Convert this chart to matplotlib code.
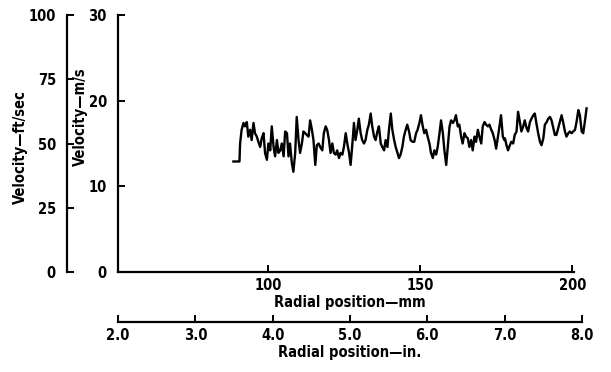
import matplotlib
matplotlib.use("Agg")
import matplotlib.pyplot as plt

# Hot-wire velocity trace across the duct
radial_mm = [
    88.7, 90.7, 90.9, 91.4, 92.0, 92.5, 93.1, 93.6, 94.2, 94.7, 95.3, 95.8, 96.4, 96.9,
    97.5, 98.0, 98.6, 99.1, 99.7, 100.2, 100.8, 101.3, 101.9, 102.4, 103.0, 103.5, 104.1,
    104.6, 105.2, 105.7, 106.3, 106.8, 107.3, 107.9, 108.4, 109.0, 109.5, 110.1, 110.6,
    111.2, 111.7, 112.3, 112.8, 113.4, 113.9, 114.5, 115.0, 115.6, 116.1, 116.7, 117.2,
    117.9, 118.4, 119.0, 119.5, 120.1, 120.6, 121.2, 121.7, 122.3, 122.8, 123.4, 123.9,
    124.5, 125.0, 125.6, 126.1, 126.7, 127.2, 127.7, 128.3, 128.8, 129.4, 129.9, 130.5,
    131.0, 131.6, 132.1, 132.7, 133.2, 133.8, 134.3, 134.9, 135.4, 136.0, 136.5, 137.1,
    137.6, 138.2, 138.7, 139.3, 139.8, 140.4, 140.9, 141.5, 142.0, 142.6, 143.1, 143.6,
    144.2, 144.7, 145.3, 145.8, 146.4, 146.9, 147.5,
    148.1, 148.7, 149.2, 149.8, 150.3, 150.9, 151.4, 152.0, 152.5, 153.1, 153.6, 154.2,
    154.7, 155.3, 155.8, 156.4, 156.9, 157.5, 158.0, 158.6, 159.1, 159.7, 160.2, 160.8,
    161.3, 161.8, 162.4, 162.9, 163.5, 164.0, 164.6, 165.1, 165.7, 166.2, 166.8, 167.3,
    167.9, 168.4, 169.0, 169.5, 170.1, 170.6, 171.2, 171.7, 172.3, 172.8, 173.4, 173.9,
    174.5, 175.0, 175.6, 176.1, 176.6, 177.2, 177.7,
    177.9, 178.4, 178.9, 179.5, 180.0, 180.6, 181.1, 181.7, 182.2, 182.8, 183.3, 183.9,
    184.4, 185.0, 185.5, 186.1, 186.6, 187.2, 187.7, 188.3, 188.8, 189.4, 189.9, 190.5,
    191.0, 191.6, 192.1, 192.7, 193.2, 193.8, 194.3, 194.8, 195.4, 195.9, 196.5, 197.0,
    197.6, 198.1, 198.7, 199.2, 199.8, 200.3, 200.9, 201.4, 202.0, 202.5, 203.1, 203.6,
    204.2, 204.7,
]
velocity_ms = [
    12.9, 12.9, 15.0, 16.6, 17.4, 17.0, 17.5, 15.8, 16.6, 15.4, 17.4, 16.2, 15.8, 15.2,
    14.6, 15.6, 16.2, 13.9, 13.1, 15.0, 14.2, 17.0, 14.6, 13.5, 15.4, 13.9, 14.2,
    15.0, 13.5, 16.4, 16.2, 13.5, 15.0, 12.7, 11.7, 13.9, 18.1, 15.4, 13.9,
    15.0, 16.4, 16.2, 16.0, 15.8, 17.7, 16.6, 15.4, 12.5, 14.8, 15.0, 14.6,
    14.2, 16.2, 17.0, 16.6, 15.4, 13.9, 15.0, 13.9, 13.7, 14.2, 13.3, 13.9,
    13.7, 14.6, 16.2, 15.0, 13.9, 12.5, 14.6, 17.4, 15.4, 16.6, 17.9, 16.2,
    15.4, 15.0, 15.4, 16.6, 17.2, 18.5, 17.0, 15.8, 15.4, 16.4, 17.0, 15.0,
    14.6, 14.2, 15.4, 14.6, 16.6, 18.5, 16.6, 15.4, 14.6, 13.9, 13.3, 13.7,
    14.6, 15.8, 16.6, 17.2, 16.4, 15.4, 15.2,
    15.2, 16.2, 16.6, 17.4, 18.3, 17.0, 16.2, 16.6, 15.8, 15.0, 13.9, 13.3,
    14.2, 13.7, 14.6, 16.2, 17.7, 16.2, 14.2, 12.5, 14.6, 17.0, 17.7, 17.4,
    17.7, 18.3, 17.0, 17.2, 15.8, 15.0, 16.2, 15.8, 15.6, 14.6, 15.4, 14.2,
    15.8, 15.2, 16.6, 15.8, 15.0, 17.0, 17.5, 17.2, 17.0, 17.2, 16.6, 16.2,
    15.4, 14.4, 15.8, 17.0, 18.3, 15.8, 15.4,
    15.6, 14.8, 14.2, 14.8, 15.2, 15.0, 16.0, 16.4, 18.7, 17.5, 16.4, 17.0,
    17.7, 16.8, 16.4, 17.5, 17.9, 18.3, 18.5, 17.2, 16.2, 15.2, 14.8, 15.6,
    17.2, 17.5, 17.9, 18.1, 17.7, 16.8, 16.0, 16.0, 16.8, 17.5, 18.3, 17.5,
    16.4, 15.8, 16.2, 16.4, 16.2, 16.4, 16.6, 17.5, 18.9, 18.3, 16.4, 16.2,
    17.7, 19.1,
]

mm_ticks = [100, 150, 200]
ms_ticks = [0, 10, 20, 30]
fts_ticks = [0, 25, 50, 75, 100]
in_ticks = [2.0, 3.0, 4.0, 5.0, 6.0, 7.0, 8.0]

plt.rcParams["font.family"] = ["DejaVu Sans"]
plt.rcParams["font.stretch"] = "condensed"
plt.rcParams["font.weight"] = "bold"
plt.rcParams["axes.labelweight"] = "bold"
FS = 10.5

W, H = 611, 372
fig = plt.figure(figsize=(W / 100, H / 100), dpi=100)


def frac(x0, y0, x1, y1):
    # pixel box -> figure fraction rect
    return [x0 / W, 1 - y1 / H, (x1 - x0) / W, (y1 - y0) / H]


def bare(ax):
    for s in ax.spines.values():
        s.set_visible(False)
    ax.patch.set_visible(False)


# main axes: velocity (m/s) vs radial position (mm)
ax = fig.add_axes(frac(118, 15, 582, 272))
ax.plot(radial_mm, velocity_ms, color="black", lw=1.7, clip_on=False)
ax.set_xlim(50.8, 203.2)
ax.set_ylim(0, 30)
bare(ax)
ax.spines["left"].set_visible(True)
ax.spines["bottom"].set_visible(True)
ax.spines["bottom"].set_bounds(50.8, 200.6)
for s in ("left", "bottom"):
    ax.spines[s].set_linewidth(1.6)
ax.set_xticks(mm_ticks)
ax.set_yticks(ms_ticks)
ax.tick_params(direction="in", length=5, width=1.4, labelsize=FS, pad=4)
ax.tick_params(axis="y", pad=8)
ax.set_xlabel("Radial position\u2014mm", fontsize=FS, labelpad=2)
fig.text(80 / W, 1 - 117 / H, "Velocity\u2014m/s", rotation=90,
         ha="center", va="center", fontsize=FS, fontweight="bold")

# ft/sec scale on the far left
axf = fig.add_axes(frac(67, 15, 68, 272))
axf.set_ylim(0, 100)
bare(axf)
axf.spines["left"].set_visible(True)
axf.spines["left"].set_linewidth(1.6)
axf.set_xticks([])
axf.set_yticks(fts_ticks)
axf.tick_params(direction="in", length=5, width=1.4, labelsize=FS, pad=8)
fig.text(20 / W, 1 - 147 / H, "Velocity\u2014ft/sec", rotation=90,
         ha="center", va="center", fontsize=FS, fontweight="bold")

# inch scale below
axi = fig.add_axes(frac(118, 321, 582, 322))
axi.set_xlim(2.0, 8.0)
bare(axi)
axi.spines["bottom"].set_visible(True)
axi.spines["bottom"].set_linewidth(1.6)
axi.set_yticks([])
axi.set_xticks(in_ticks)
axi.set_xticklabels([f"{t:.1f}" for t in in_ticks])
axi.tick_params(direction="in", length=5, width=1.4, labelsize=FS, pad=4)
axi.set_xlabel("Radial position\u2014in.", fontsize=FS, labelpad=2)

fig.savefig("out.png", dpi=100)
